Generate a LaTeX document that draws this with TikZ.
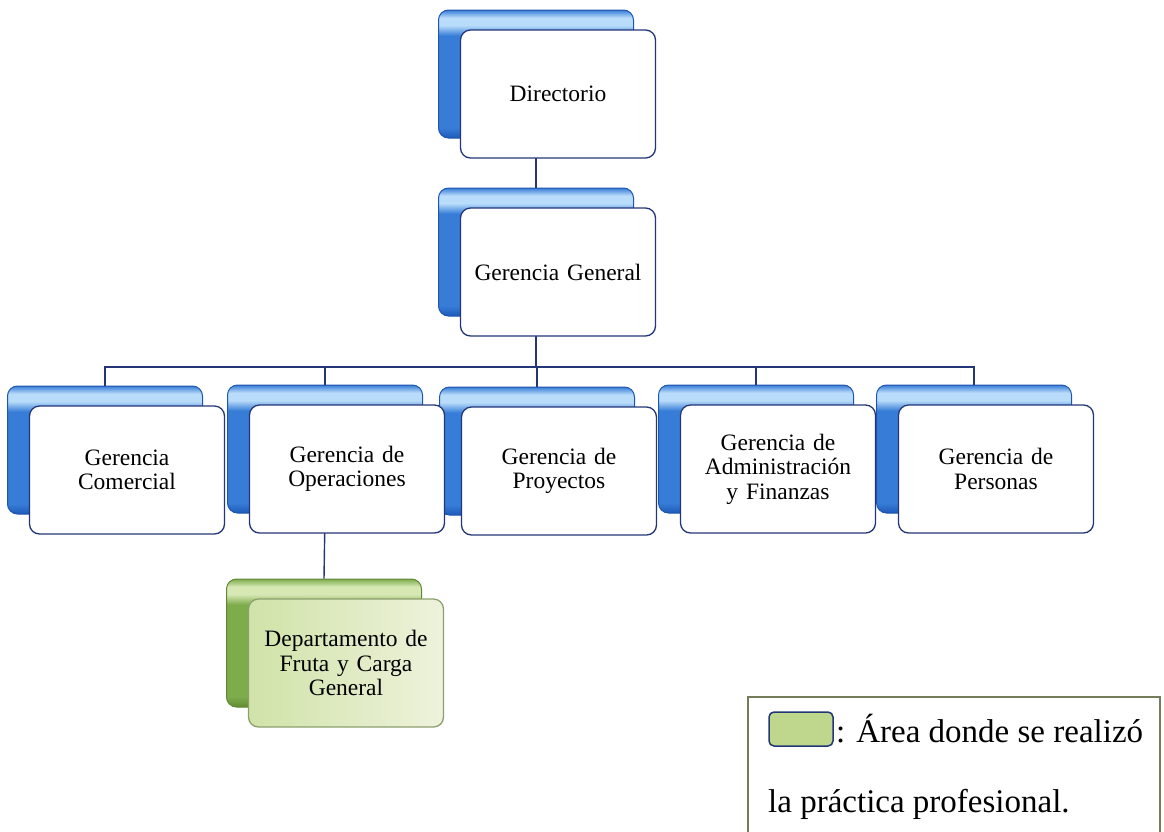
\documentclass[tikz,border=0pt]{standalone}
\usepackage{fontspec}
\setmainfont{Liberation Serif}
\usepackage{tikz}
\usetikzlibrary{positioning}
\definecolor{navy}{RGB}{35, 55, 120}
\definecolor{blue1}{RGB}{185, 220, 250}
\definecolor{blue2}{RGB}{55, 125, 215}
\definecolor{blue3}{RGB}{30, 90, 185}
\definecolor{blueedge}{RGB}{30, 85, 175}
\definecolor{green1}{RGB}{215, 232, 180}
\definecolor{green2}{RGB}{125, 172, 75}
\definecolor{green3}{RGB}{95, 140, 50}
\definecolor{greenedge}{RGB}{95, 135, 55}
\definecolor{greenfront1}{RGB}{208, 227, 168}
\definecolor{greenfront2}{RGB}{238, 242, 220}
\definecolor{greenline}{RGB}{140, 160, 110}
\definecolor{swatch}{RGB}{190, 215, 140}
\definecolor{legedge}{RGB}{115, 125, 90}
\pgfdeclareverticalshading{bluecard}{100bp}{color(0bp)=(blue3); color(25bp)=(blue3); color(29bp)=(blue2); color(65bp)=(blue2); color(69bp)=(blue1); color(72bp)=(blue1); color(75bp)=(blue2); color(100bp)=(blue2)}
\pgfdeclareverticalshading{greencard}{100bp}{color(0bp)=(green3); color(25bp)=(green3); color(29bp)=(green2); color(65bp)=(green2); color(69bp)=(green1); color(72bp)=(green1); color(75bp)=(green2); color(100bp)=(green2)}
\tikzstyle{card} = [rectangle, rounded corners=10pt, minimum width=195pt, minimum height=128pt, inner sep=0pt, text width=185pt, align=center, font=\fontsize{23.5}{24.5}\selectfont]
\tikzstyle{unit} = [card, draw=navy, line width=1.3pt, fill=white]
\tikzstyle{unitback} = [card, draw=blueedge, line width=1pt, shading=bluecard]
\tikzstyle{area} = [card, draw=greenline, line width=1.3pt, left color=greenfront1, right color=greenfront2]
\tikzstyle{areaback} = [card, draw=greenedge, line width=1pt, shading=greencard]
\tikzstyle{link} = [draw=navy, line width=1.4pt]
\tikzstyle{legtext} = [inner sep=0pt, font=\fontsize{33}{36}\selectfont]

\begin{document}
\begin{tikzpicture}[x=1pt, y=-1pt]
\useasboundingbox (0,0) rectangle (1164,831);

% back cards =============================
\node[unitback] (dirb) at (536,74) {};
\node[unitback] (ggb) at (536,252) {};
\node[unitback] (comb) at (105,450) {};
\node[unitback] (opb) at (325,449) {};
\node[unitback] (proyb) at (537,451) {};
\node[unitback] (admb) at (756,449) {};
\node[unitback] (perb) at (974,449) {};
\node[areaback] (depb) at (324,643) {};

% links
\coordinate (bar) at (536,367);
\path[link] (dirb.south) -- (ggb.north);
\path[link] (ggb.south) -- (ggb.south |- bar);
\foreach \n in {comb,opb,proyb,admb,perb}
  \path[link] (ggb.south |- bar) -| (\n.north);
\path[link] (opb.south) -- (depb.north);

% front cards =============================
\node[unit, xshift=22pt, yshift=-20pt] (dir) at (dirb) {Directorio};
\node[unit, xshift=22pt, yshift=-20pt] (gg) at (ggb) {Gerencia General};
\node[unit, xshift=22pt, yshift=-20pt] (com) at (comb) {Gerencia\\Comercial};
\node[unit, xshift=22pt, yshift=-20pt] (op) at (opb) {Gerencia de\\Operaciones};
\node[unit, xshift=22pt, yshift=-20pt] (proy) at (proyb) {Gerencia de\\Proyectos};
\node[unit, xshift=22pt, yshift=-20pt] (adm) at (admb) {Gerencia de\\Administración\\y Finanzas};
\node[unit, xshift=22pt, yshift=-20pt] (per) at (perb) {Gerencia de\\Personas};
\node[area, xshift=22pt, yshift=-20pt] (dep) at (depb) {Departamento de\\Fruta y Carga\\General};

% legend
\node[draw=legedge, line width=1.8pt, minimum width=412pt, minimum height=140pt] (leg) at (954,767) {};
\node[draw=navy, line width=1.5pt, fill=swatch, rounded corners=5pt, minimum width=64pt, minimum height=34pt] (sw) at (801,729) {};
\node[legtext, anchor=base west] (leg1) at (836,742) {: Área donde se realizó};
\node[legtext, anchor=base west] (leg2) at (768,812) {la práctica profesional.};

\end{tikzpicture}
\end{document}
